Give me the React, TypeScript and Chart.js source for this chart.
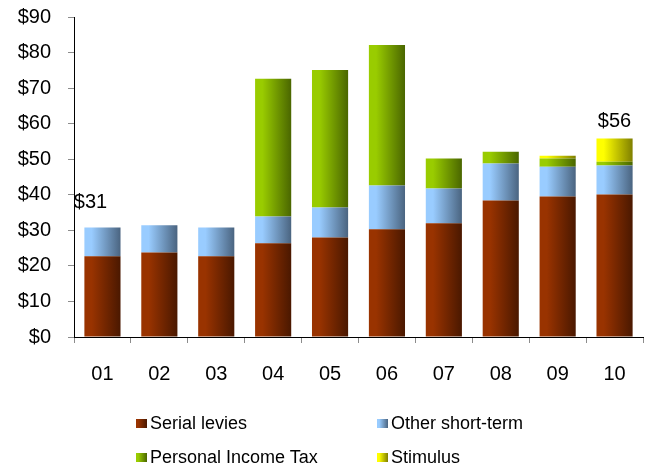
import React, { useEffect, useRef } from "react";
import { Chart, registerables } from "chart.js";

Chart.register(...registerables);

const categories = ["01", "02", "03", "04", "05", "06", "07", "08", "09", "10"];
const serialLevies = [22.7, 23.8, 22.7, 26.4, 28.0, 30.3, 32.0, 38.4, 39.5, 40.1];
const otherShortTerm = [8.1, 7.6, 8.1, 7.5, 8.4, 12.3, 9.8, 10.4, 8.4, 8.1];
const personalIncomeTax = [0, 0, 0, 38.7, 38.7, 39.5, 8.4, 3.3, 2.3, 1.1];
const stimulus = [0, 0, 0, 0, 0, 0, 0, 0, 0.8, 6.5];
const totalLabels = ["$31", "", "", "", "", "", "", "", "", "$56"];
const seriesNames = ["Serial levies", "Other short-term", "Personal Income Tax", "Stimulus"];

const FONT = "'Liberation Sans', Arial, Helvetica, sans-serif";

const gradientColors: [string, string][] = [
  ["#993300", "#4a1800"],
  ["#99ccff", "#4a6480"],
  ["#99cc00", "#4a6600"],
  ["#ffff00", "#7f7f00"],
];

const gradientPlugin = {
  id: "barGradient",
  beforeDatasetsDraw(chart: any) {
    const ctx = chart.ctx;
    chart.data.datasets.forEach((_ds: any, di: number) => {
      const meta = chart.getDatasetMeta(di);
      const [c0, c1] = gradientColors[di];
      meta.data.forEach((el: any) => {
        const left = el.x - el.width / 2;
        const g = ctx.createLinearGradient(left, 0, left + el.width, 0);
        g.addColorStop(0, c0);
        g.addColorStop(0.2, c0);
        g.addColorStop(1, c1);
        el.options = Object.assign({}, el.options, { backgroundColor: g });
      });
    });
  },
};

const labelOffsets: Record<number, [number, number]> = { 0: [-12, 25] };

const totalsPlugin = {
  id: "totals",
  afterDatasetsDraw(chart: any) {
    const ctx = chart.ctx;
    const xs = chart.scales.x;
    const ys = chart.scales.y;
    ctx.save();
    ctx.font = `20px ${FONT}`;
    ctx.fillStyle = "#000";
    ctx.textAlign = "center";
    ctx.textBaseline = "middle";
    totalLabels.forEach((t, i) => {
      if (!t) return;
      const total = serialLevies[i] + otherShortTerm[i] + personalIncomeTax[i] + stimulus[i];
      const [dx, dy] = labelOffsets[i] || [0, 17];
      ctx.fillText(t, xs.getPixelForValue(i) + dx, ys.getPixelForValue(total) - dy);
    });
    ctx.restore();
  },
};

function Swatch({ colors }: { colors: [string, string] }) {
  return (
    <span
      style={{
        display: "inline-block",
        width: 11,
        height: 9,
        marginRight: 3,
        background: `linear-gradient(to right, ${colors[0]} 0%, ${colors[0]} 20%, ${colors[1]} 100%)`,
      }}
    />
  );
}

export default function App() {
  const ref = useRef<HTMLCanvasElement | null>(null);

  useEffect(() => {
    if (!ref.current) return;
    const seriesData = [serialLevies, otherShortTerm, personalIncomeTax, stimulus];
    const chart = new Chart(ref.current, {
      type: "bar",
      data: {
        labels: categories,
        datasets: seriesData.map((d, i) => ({
          label: seriesNames[i],
          data: d,
          backgroundColor: gradientColors[i][0],
          borderWidth: 0,
          categoryPercentage: 1,
          barPercentage: 0.635,
        })),
      },
      options: {
        responsive: false,
        animation: false,
        devicePixelRatio: 1,
        layout: { padding: { left: 17, right: 5, top: 3, bottom: 63 } },
        plugins: {
          legend: { display: false },
          tooltip: { enabled: false },
        },
        scales: {
          x: {
            stacked: true,
            grid: {
              display: true,
              drawOnChartArea: false,
              drawTicks: true,
              tickLength: 6,
              color: "#8c8c8c",
              offset: true,
            },
            border: { display: true, color: "#000", width: 1 },
            ticks: {
              color: "#000",
              font: { family: FONT, size: 20 },
              padding: 19,
            },
          },
          y: {
            stacked: true,
            min: 0,
            max: 90,
            afterFit: (scale: any) => {
              scale.width = 57;
            },
            grid: {
              display: true,
              drawOnChartArea: false,
              drawTicks: true,
              tickLength: 6,
              color: "#8c8c8c",
            },
            border: { display: true, color: "#000", width: 1 },
            ticks: {
              stepSize: 10,
              color: "#000",
              font: { family: FONT, size: 20 },
              padding: 17,
              callback: (v: any) => "$" + v,
            },
          },
        },
      },
      plugins: [gradientPlugin, totalsPlugin],
    });
    return () => chart.destroy();
  }, []);

  const legendItem = (i: number, left: number, top: number) => (
    <div
      key={i}
      style={{
        position: "absolute",
        left,
        top,
        height: 24,
        display: "flex",
        alignItems: "center",
        fontFamily: FONT,
        fontSize: 18,
        color: "#000",
        whiteSpace: "nowrap",
      }}
    >
      <Swatch colors={gradientColors[i]} />
      <span>{seriesNames[i]}</span>
    </div>
  );

  return (
    <div
      style={{
        position: "absolute",
        left: 0,
        top: 0,
        width: 648,
        height: 468,
        overflow: "hidden",
        background: "#fff",
      }}
    >
      <canvas
        ref={ref}
        width={648}
        height={480}
        style={{ position: "absolute", left: 0, top: -12, display: "block", width: 648, height: 480 }}
      />
      {legendItem(0, 136, 411)}
      {legendItem(1, 377, 411)}
      {legendItem(2, 136, 445)}
      {legendItem(3, 377, 445)}
    </div>
  );
}
